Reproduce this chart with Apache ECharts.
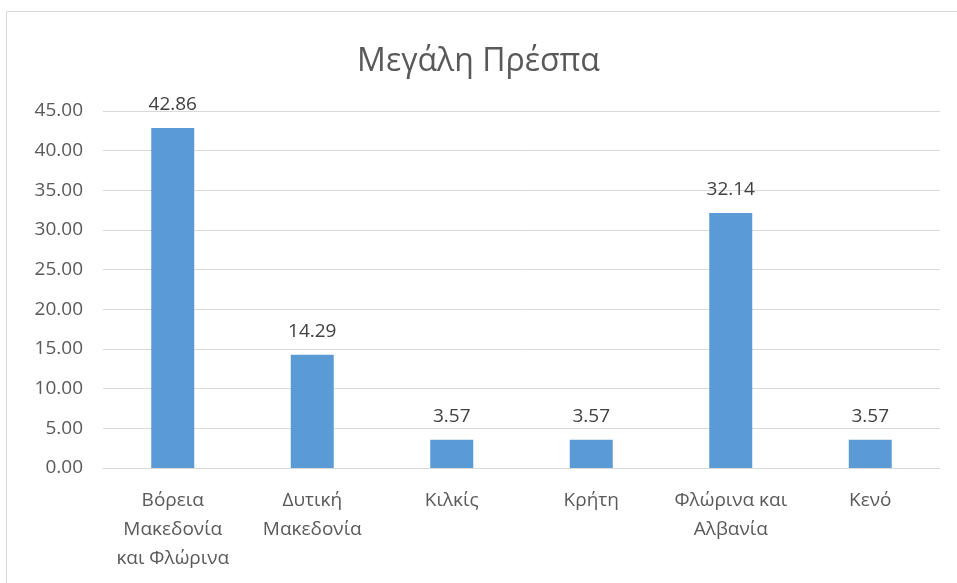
<!DOCTYPE html>
<html>
<head>
<meta charset="utf-8">
<script src="https://cdn.jsdelivr.net/npm/echarts@6/dist/echarts.min.js"></script>
<style>
  html, body { margin: 0; padding: 0; background: #ffffff; }
  #chart { width: 957px; height: 583px; }
</style>
</head>
<body>
<div id="chart"></div>
<script>
// Regions of origin (multi-line labels) and their percentages
const categories = [
  'Βόρεια\nΜακεδονία\nκαι Φλώρινα',
  'Δυτική\nΜακεδονία',
  'Κιλκίς',
  'Κρήτη',
  'Φλώρινα και\nΑλβανία',
  'Κενό'
];
const values = [42.86, 14.29, 3.57, 3.57, 32.14, 3.57];
const titleText = 'Μεγάλη Πρέσπα';

const FONT = '"Open Sans", "Noto Sans", sans-serif';
const chart = echarts.init(document.getElementById('chart'), null, { renderer: 'canvas' });

chart.setOption({
  backgroundColor: '#ffffff',
  animation: false,
  graphic: [{
    type: 'rect',
    shape: { x: 6.5, y: 11.5, width: 1000, height: 700 },
    style: { fill: 'none', stroke: '#d9d9d9', lineWidth: 1 },
    silent: true,
    z: -1
  }],
  title: {
    text: titleText,
    left: 'center',
    top: 41,
    textStyle: { fontFamily: FONT, fontSize: 32, fontWeight: 'normal', color: '#595959' }
  },
  grid: { left: 103, right: 17, top: 111, bottom: 115 },
  xAxis: {
    type: 'category',
    data: categories,
    axisTick: { show: false },
    axisLine: { lineStyle: { color: '#d9d9d9', width: 1 } },
    axisLabel: {
      interval: 0,
      margin: 18,
      fontFamily: FONT,
      fontSize: 19,
      color: '#595959',
      lineHeight: 29
    }
  },
  yAxis: {
    type: 'value',
    min: 0,
    max: 45,
    interval: 5,
    axisLine: { show: false },
    axisTick: { show: false },
    splitLine: { lineStyle: { color: '#d9d9d9', width: 1 } },
    axisLabel: {
      margin: 20,
      fontFamily: FONT,
      fontSize: 19,
      color: '#595959',
      formatter: v => v.toFixed(2)
    }
  },
  series: [{
    type: 'bar',
    data: values,
    barWidth: 43,
    itemStyle: { color: '#5b9bd5' },
    label: {
      show: true,
      position: 'top',
      distance: 14,
      fontFamily: FONT,
      fontSize: 19,
      color: '#404040',
      formatter: p => p.value.toFixed(2)
    }
  }]
});
</script>
</body>
</html>
